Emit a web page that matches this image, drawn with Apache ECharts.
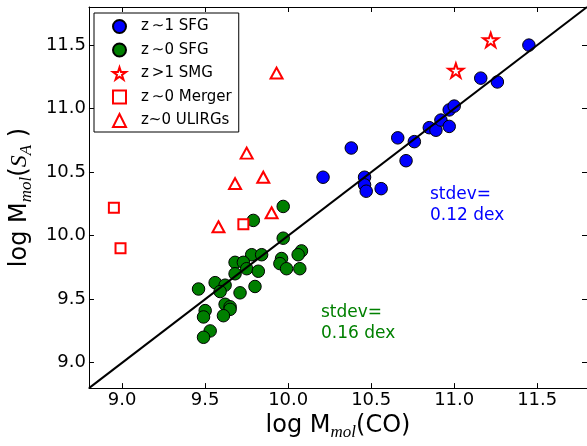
<!DOCTYPE html>
<html>
<head>
<meta charset="utf-8">
<script src="https://cdn.jsdelivr.net/npm/echarts@6/dist/echarts.min.js"></script>
<style>
html,body{margin:0;padding:0;background:#fff;}
#c{width:587px;height:446px;}
</style>
</head>
<body>
<div id="c"></div>
<script>
// ---- data ----
const seriesNames = ['z\u2009\u223C1 SFG', 'z\u2009\u223C0 SFG', 'z\u2009>1 SMG', 'z\u2009\u223C0 Merger', 'z~0 ULIRGs'];
const sfgZ1 = [[10.38,10.69],[10.66,10.77],[10.76,10.74],[10.71,10.59],[10.46,10.46],[10.46,10.40],[10.47,10.35],[10.56,10.37],[10.85,10.85],[10.89,10.83],[10.92,10.91],[10.97,10.86],[10.97,10.99],[11.00,11.02],[11.16,11.24],[11.26,11.21],[11.45,11.50],[10.21,10.46]];
const sfgZ0 = [[9.97,10.23],[9.79,10.12],[9.97,9.98],[9.78,9.85],[9.84,9.85],[10.08,9.88],[10.06,9.85],[9.96,9.82],[9.95,9.78],[9.99,9.74],[10.07,9.74],[9.68,9.79],[9.73,9.79],[9.75,9.74],[9.68,9.70],[9.82,9.72],[9.80,9.60],[9.71,9.55],[9.46,9.58],[9.56,9.63],[9.62,9.61],[9.59,9.56],[9.62,9.46],[9.65,9.44],[9.65,9.42],[9.61,9.37],[9.50,9.41],[9.49,9.36],[9.53,9.25],[9.49,9.20]];
const smg = [[11.01,11.30],[11.22,11.54]];
const mergers = [[8.95,10.22],[8.99,9.90],[9.73,10.09]];
const ulirgs = [[9.93,11.28],[9.75,10.65],[9.85,10.46],[9.68,10.41],[9.90,10.18],[9.58,10.07]];
const oneToOne = [[8.8,8.8],[11.8,11.8]];
const xTicks = [9.0, 9.5, 10.0, 10.5, 11.0, 11.5];
const yTicks = [9.0, 9.5, 10.0, 10.5, 11.0, 11.5];
const axisMin = 8.8, axisMax = 11.8;
const noteBlue = 'stdev=\n0.12 dex';
const noteGreen = 'stdev=\n0.16 dex';

// ---- styles ----
const FONT = 'DejaVu Sans';
const starPath = 'path://M0,-1L0.2245,-0.309L0.9511,-0.309L0.3633,0.118L0.5878,0.809L0,0.382L-0.5878,0.809L-0.3633,0.118L-0.9511,-0.309L-0.2245,-0.309Z';
const nameRich = {
  t: {fontSize: 24, fontFamily: FONT, color: '#000', lineHeight: 30},
  i: {fontSize: 24, fontFamily: 'Liberation Serif', fontStyle: 'italic', color: '#000', lineHeight: 30},
  s: {fontSize: 17, fontFamily: 'Liberation Serif', fontStyle: 'italic', color: '#000', lineHeight: 18, verticalAlign: 'bottom'}
};
function mainAxis(pos, ticks, name, gap, rot) {
  return {
    type: 'value', position: pos, min: axisMin, max: axisMax,
    axisLine: {show: true, onZero: false, lineStyle: {color: '#000', width: 1}},
    splitLine: {show: false},
    axisTick: {show: true, inside: true, length: 5, customValues: ticks, lineStyle: {color: '#000', width: 1}},
    axisLabel: {show: true, customValues: ticks, formatter: v => v.toFixed(1), fontSize: 18, fontFamily: FONT, color: '#000', margin: 3},
    name: name, nameLocation: 'middle', nameGap: gap, nameRotate: rot,
    nameTextStyle: {rich: nameRich}
  };
}
function mirrorAxis(pos, ticks) {
  return {
    type: 'value', position: pos, min: axisMin, max: axisMax,
    axisLine: {show: true, onZero: false, lineStyle: {color: '#000', width: 1}},
    splitLine: {show: false},
    axisTick: {show: true, inside: true, length: 5, customValues: ticks, lineStyle: {color: '#000', width: 1}},
    axisLabel: {show: false}
  };
}
const chart = echarts.init(document.getElementById('c'), null, {renderer: 'canvas'});
chart.setOption({
  animation: false,
  backgroundColor: '#fff',
  grid: {left: 86, right: 0, top: 7, bottom: 51, containLabel: false},
  xAxis: [
    mainAxis('bottom', xTicks, '{t|log M}{s|mol}{t|(CO)}', 13, 0),
    mirrorAxis('top', xTicks)
  ],
  yAxis: [
    mainAxis('left', yTicks, '{t|log M}{s|mol}{t|(}{i|S}{s|A}{t| )}', 48, 90),
    mirrorAxis('right', yTicks)
  ],
  legend: {
    data: seriesNames,
    orient: 'vertical', left: 94, top: 13,
    padding: [6, 7, 4, 18],
    itemWidth: 13, itemHeight: 13, itemGap: 8.5,
    backgroundColor: '#fff', borderColor: '#000', borderWidth: 1, borderRadius: 0,
    textStyle: {fontSize: 15, fontFamily: FONT, color: '#000', lineHeight: 15, padding: [0, 0, 0, 10]},
    symbolKeepAspect: true
  },
  graphic: [
    {type: 'text', x: 430, y: 184, z: 10, style: {text: noteBlue, fill: '#0000ff', font: '17px "DejaVu Sans"', lineHeight: 21}},
    {type: 'text', x: 321, y: 302, z: 10, style: {text: noteGreen, fill: '#008000', font: '17px "DejaVu Sans"', lineHeight: 21}}
  ],
  series: [
    {name: seriesNames[0], type: 'scatter', data: sfgZ1, symbol: 'circle', symbolSize: 12.5, z: 2,
     itemStyle: {color: '#0000ff', borderColor: '#000', borderWidth: 1, opacity: 1}},
    {name: seriesNames[1], type: 'scatter', data: sfgZ0, symbol: 'circle', symbolSize: 12.5, z: 2,
     itemStyle: {color: '#007f00', borderColor: '#000', borderWidth: 1, opacity: 1}},
    {name: seriesNames[2], type: 'scatter', data: smg, symbol: starPath, symbolKeepAspect: true, symbolSize: 15, z: 2,
     itemStyle: {color: '#fff', borderColor: '#ff0000', borderWidth: 2, opacity: 1}},
    {name: seriesNames[3], type: 'scatter', data: mergers, symbol: 'rect', symbolSize: 10, z: 2,
     itemStyle: {color: '#fff', borderColor: '#ff0000', borderWidth: 2, opacity: 1}},
    {name: seriesNames[4], type: 'scatter', data: ulirgs, symbol: 'triangle', symbolSize: [12, 11], z: 2,
     itemStyle: {color: '#fff', borderColor: '#ff0000', borderWidth: 2, opacity: 1}},
    {name: 'one-to-one', type: 'line', data: oneToOne, symbol: 'none', z: 3, silent: true,
     lineStyle: {color: '#000', width: 2}}
  ]
});
</script>
</body>
</html>
